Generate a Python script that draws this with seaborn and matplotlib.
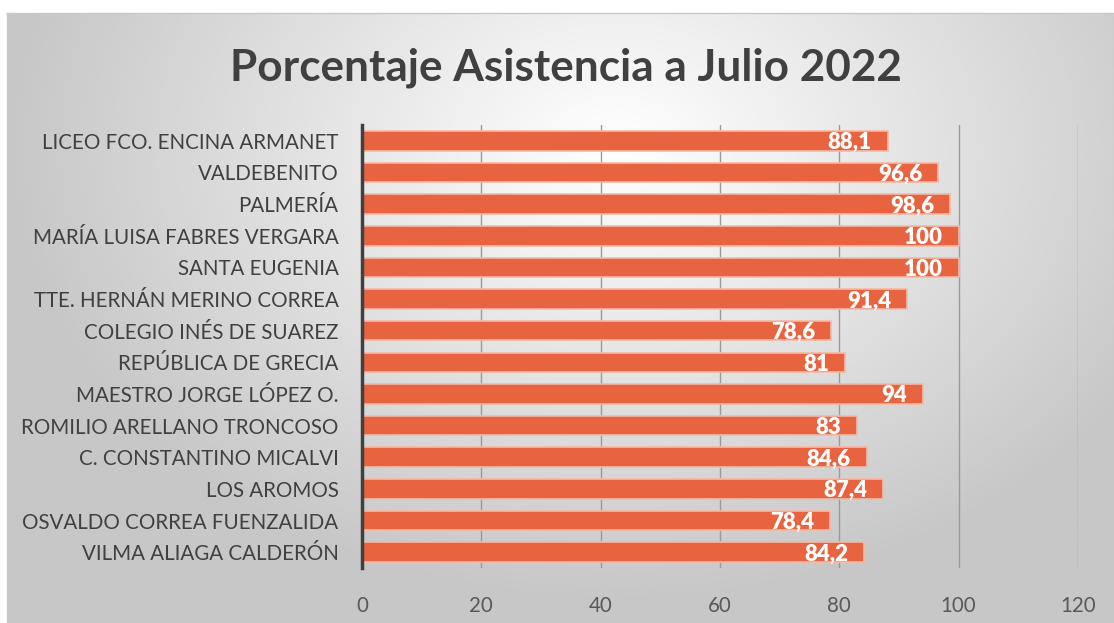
import numpy as np
import pandas as pd
import matplotlib.pyplot as plt
import seaborn as sns

# data, top to bottom as in the chart
schools = [
    "LICEO FCO. ENCINA ARMANET", "VALDEBENITO", "PALMERÍA",
    "MARÍA LUISA FABRES VERGARA", "SANTA EUGENIA", "TTE. HERNÁN MERINO CORREA",
    "COLEGIO INÉS DE SUAREZ", "REPÚBLICA DE GRECIA", "MAESTRO JORGE LÓPEZ O.",
    "ROMILIO ARELLANO TRONCOSO", "C. CONSTANTINO MICALVI", "LOS AROMOS",
    "OSVALDO CORREA FUENZALIDA", "VILMA ALIAGA CALDERÓN",
]
asistencia = [88.1, 96.6, 98.6, 100, 100, 91.4, 78.6, 81, 94, 83, 84.6, 87.4, 78.4, 84.2]
x_ticks = [0, 20, 40, 60, 80, 100, 120]

df = pd.DataFrame({"Escuela": schools, "Asistencia": asistencia})

sns.set_theme(style="white")
plt.rcParams['font.family'] = ['Lato', 'DejaVu Sans']

fig = plt.figure(figsize=(11.14, 6.23), dpi=100)
fig.patch.set_facecolor("white")

# fondo gris con degradado radial (estilo Excel)
bg = fig.add_axes([7/1114, 0, 1 - 7/1114, 1 - 13/623], zorder=0)
h, w = 300, 540
yy, xx = np.mgrid[0:h, 0:w]
cx, cy = 0.55 * w, 0.22 * h
r = np.sqrt(((xx - cx) / w) ** 2 + ((yy - cy) / (h * 1.35)) ** 2)
shade = np.clip(1.0 - 0.40 * r, 0.78, 1.0)
bg.imshow(shade, cmap="gray", vmin=0, vmax=1, aspect="auto", interpolation="bicubic")
bg.set_xticks([]); bg.set_yticks([])
for s in bg.spines.values():
    s.set_color("#c8c8c8"); s.set_linewidth(1)

ax = fig.add_axes([362/1114, 1 - 568/623, (1078 - 362)/1114, (568 - 125)/623], zorder=1)
ax.patch.set_alpha(0)

sns.barplot(data=df, y="Escuela", x="Asistencia", color="#E8633F", saturation=1,
            width=0.62, orient="h", ax=ax, edgecolor="#f6b9a6", linewidth=1.2)

for i, v in enumerate(asistencia):
    txt = f"{v:g}".replace(".", ",")
    ax.text(v - 2.7, i + 0.06, txt, ha="right", va="center", color="white",
            fontsize=16, fontweight="heavy")

ax.set_xlim(0, 120)
ax.set_xticks(x_ticks)
ax.xaxis.grid(True, color="#9a9a9a", linewidth=1)
ax.set_axisbelow(True)
ax.set_xlabel("")
ax.set_ylabel("")
for side in ["top", "right", "bottom"]:
    ax.spines[side].set_visible(False)
ax.spines["left"].set_color("#404040")
ax.spines["left"].set_linewidth(2.5)
ax.tick_params(axis="y", length=0, pad=17, labelsize=14.8, labelcolor="#404040")
ax.tick_params(axis="x", length=0, pad=20, labelsize=14.8, labelcolor="#595959")

fig.text(566/1114, 1 - 68/623, "Porcentaje Asistencia a Julio 2022", ha="center", va="center",
         fontsize=31.8, fontweight="bold", color="#404040")

fig.savefig("out.png", dpi=100)
